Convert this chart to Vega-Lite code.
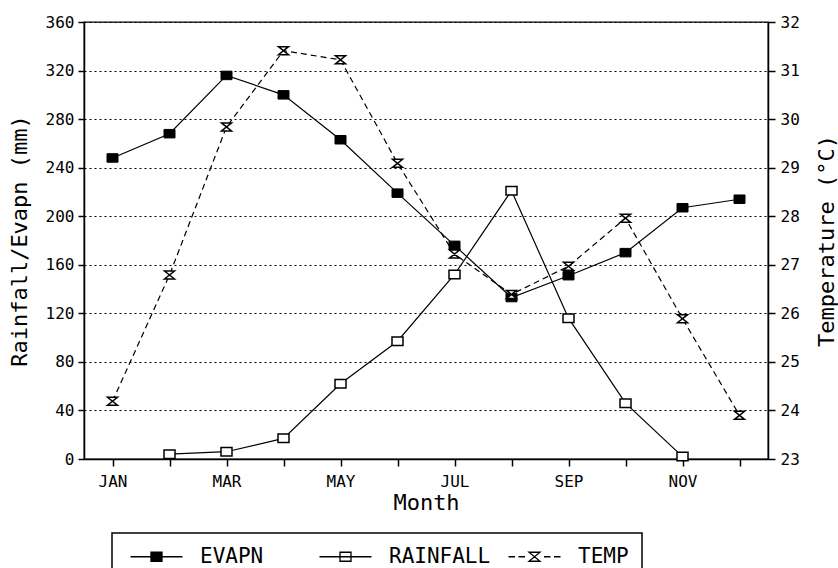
{
  "$schema": "https://vega.github.io/schema/vega-lite/v6.json",
  "autosize": {"type": "none"},
  "width": 684,
  "height": 437,
  "padding": {"left": 84, "top": 22, "right": 70, "bottom": 109},
  "background": "white",
  "config": {
    "font": "DejaVu Sans Mono",
    "view": {"stroke": "black", "strokeWidth": 1.3},
    "axis": {
      "domainColor": "black", "domainWidth": 1.5,
      "tickColor": "black", "tickWidth": 1.5,
      "labelColor": "black", "titleColor": "black",
      "labelFont": "DejaVu Sans Mono", "titleFont": "DejaVu Sans Mono",
      "labelFontSize": 16, "titleFontSize": 22, "titleFontWeight": "normal",
      "grid": false
    }
  },
  "data": {
    "values": [
      {"month": "JAN", "series": "EVAPN", "value": 248},
      {"month": "FEB", "series": "EVAPN", "value": 268},
      {"month": "MAR", "series": "EVAPN", "value": 316},
      {"month": "APR", "series": "EVAPN", "value": 300},
      {"month": "MAY", "series": "EVAPN", "value": 263},
      {"month": "JUN", "series": "EVAPN", "value": 219},
      {"month": "JUL", "series": "EVAPN", "value": 176},
      {"month": "AUG", "series": "EVAPN", "value": 133},
      {"month": "SEP", "series": "EVAPN", "value": 151},
      {"month": "OCT", "series": "EVAPN", "value": 170},
      {"month": "NOV", "series": "EVAPN", "value": 207},
      {"month": "DEC", "series": "EVAPN", "value": 214},
      {"month": "FEB", "series": "RAINFALL", "value": 4},
      {"month": "MAR", "series": "RAINFALL", "value": 6},
      {"month": "APR", "series": "RAINFALL", "value": 17},
      {"month": "MAY", "series": "RAINFALL", "value": 62},
      {"month": "JUN", "series": "RAINFALL", "value": 97},
      {"month": "JUL", "series": "RAINFALL", "value": 152},
      {"month": "AUG", "series": "RAINFALL", "value": 221},
      {"month": "SEP", "series": "RAINFALL", "value": 116},
      {"month": "OCT", "series": "RAINFALL", "value": 46},
      {"month": "NOV", "series": "RAINFALL", "value": 2},
      {"month": "JAN", "series": "TEMP", "value": 24.19},
      {"month": "FEB", "series": "TEMP", "value": 26.79},
      {"month": "MAR", "series": "TEMP", "value": 29.84},
      {"month": "APR", "series": "TEMP", "value": 31.41},
      {"month": "MAY", "series": "TEMP", "value": 31.22},
      {"month": "JUN", "series": "TEMP", "value": 29.09},
      {"month": "JUL", "series": "TEMP", "value": 27.22},
      {"month": "AUG", "series": "TEMP", "value": 26.39},
      {"month": "SEP", "series": "TEMP", "value": 26.97},
      {"month": "OCT", "series": "TEMP", "value": 27.96},
      {"month": "NOV", "series": "TEMP", "value": 25.89},
      {"month": "DEC", "series": "TEMP", "value": 23.9}
    ]
  },
  "encoding": {
    "x": {
      "field": "month", "type": "ordinal",
      "scale": {"type": "point", "padding": 0.5, "domain": ["JAN","FEB","MAR","APR","MAY","JUN","JUL","AUG","SEP","OCT","NOV","DEC"]},
      "axis": {
        "title": "Month", "labelAngle": 0, "tickSize": 7, "labelPadding": 7, "titlePadding": 3,
        "labelExpr": "indexof(['JAN','MAR','MAY','JUL','SEP','NOV'], datum.value) >= 0 ? datum.value : ''"
      }
    }
  },
  "layer": [
    {
      "encoding": {
        "y": {
          "field": "value", "type": "quantitative",
          "scale": {"domain": [0, 360], "nice": false, "zero": false},
          "axis": {
            "title": "Rainfall/Evapn (mm)", "values": [0,40,80,120,160,200,240,280,320,360],
            "grid": true, "gridColor": "black", "gridDash": [2, 3], "gridWidth": 1, "gridOpacity": 1,
            "tickSize": 6, "labelPadding": 4, "titlePadding": 14
          }
        }
      },
      "layer": [
        {
          "transform": [{"filter": "datum.series !== 'TEMP'"}],
          "mark": {"type": "line", "strokeWidth": 1.2},
          "encoding": {
            "color": {
              "field": "series", "type": "nominal",
              "scale": {"domain": ["EVAPN", "RAINFALL", "TEMP"], "range": ["black", "black", "black"]},
              "legend": {
                "title": null, "orient": "none", "legendX": 28, "legendY": 511,
                "direction": "horizontal", "columns": 3, "gridAlign": "all", "columnPadding": 12,
                "padding": 13, "strokeColor": "black", "fillColor": "white",
                "labelFont": "DejaVu Sans Mono", "labelFontSize": 21, "labelColor": "black",
                "symbolSize": 100, "labelOffset": 54,
                "encode": {
                  "legend": {"update": {"strokeWidth": {"value": 1.5}}},
                  "symbols": {
                    "update": {
                      "shape": {"signal": "datum.value === 'TEMP' ? 'M-1,0H0.3M1,0H2.3M6.1,0H7.4M8.1,0H9.4M3.1,-0.9H5.3L3.1,0.9H5.3Z' : 'M-1,0H9.4M3.1,-0.9H5.3V0.9H3.1Z'"},
                      "fill": {"signal": "datum.value === 'EVAPN' ? 'black' : 'white'"},
                      "stroke": {"value": "black"},
                      "strokeWidth": {"value": 1.3},
                      "strokeDash": {"value": []},
                      "opacity": {"value": 1},
                      "size": {"value": 100}
                    }
                  }
                }
              }
            }
          }
        },
        {
          "transform": [{"filter": "datum.series === 'EVAPN'"}],
          "mark": {"type": "point", "shape": "M-1.1,-0.85H1.1V0.85H-1.1Z", "size": 100, "fill": "black", "stroke": "black", "strokeWidth": 1, "opacity": 1, "filled": true},
          "encoding": {}
        },
        {
          "transform": [{"filter": "datum.series === 'RAINFALL'"}],
          "mark": {"type": "point", "shape": "M-1.1,-0.85H1.1V0.85H-1.1Z", "size": 100, "fill": "white", "stroke": "black", "strokeWidth": 1.5, "opacity": 1, "filled": true},
          "encoding": {}
        }
      ]
    },
    {
      "transform": [{"filter": "datum.series === 'TEMP'"}],
      "encoding": {
        "y": {
          "field": "value", "type": "quantitative",
          "scale": {"domain": [23, 32], "nice": false, "zero": false},
          "axis": {
            "orient": "right", "title": "Temperature (°C)", "values": [23,24,25,26,27,28,29,30,31,32],
            "grid": false, "tickSize": 7, "labelPadding": 5, "titlePadding": 17, "titleAngle": 270, "titleBaseline": "top"
          }
        }
      },
      "layer": [
        {
          "mark": {"type": "line", "strokeWidth": 1.2, "strokeDash": [6, 4]},
          "encoding": {"color": {"field": "series", "type": "nominal"}}
        },
        {
          "mark": {"type": "point", "shape": "M-1,-0.8H1L-1,0.8H1Z", "size": 100, "fill": "white", "stroke": "black", "strokeWidth": 1.5, "opacity": 1, "filled": true},
          "encoding": {}
        }
      ]
    }
  ],
  "resolve": {"scale": {"y": "independent"}, "axis": {"y": "independent"}}
}
